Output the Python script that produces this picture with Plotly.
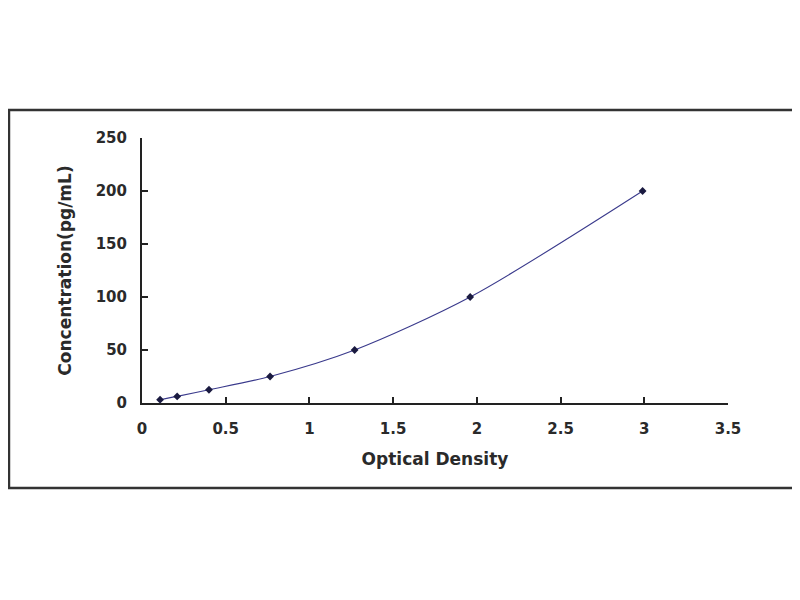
import plotly.graph_objects as go

# Standardkurve: Optische Dichte gegen Konzentration
optical_density = [0.108, 0.21, 0.40, 0.765, 1.27, 1.96, 2.99]
concentration = [3.12, 6.25, 12.5, 25, 50, 100, 200]

x_ticks = [0, 0.5, 1, 1.5, 2, 2.5, 3, 3.5]
x_tick_labels = ["0", "0.5", "1", "1.5", "2", "2.5", "3", "3.5"]
y_ticks = [0, 50, 100, 150, 200, 250]

tick_font = dict(family="DejaVu Sans, Verdana, sans-serif", size=15, color="#2a2a2a", weight="bold")
title_font = dict(family="DejaVu Sans, Verdana, sans-serif", size=17, color="#2a2a2a", weight="bold")

fig = go.Figure()

# Kurve und Messpunkte
fig.add_trace(go.Scatter(
    x=optical_density, y=concentration,
    mode="lines+markers",
    line=dict(color="#3a3a8c", width=1.1, shape="spline", smoothing=0.8),
    marker=dict(color="#1a1a40", size=6, symbol="diamond"),
    showlegend=False,
))

fig.update_xaxes(
    range=[0, 3.5], tickvals=x_ticks, ticktext=x_tick_labels,
    showgrid=False, zeroline=False,
    showline=True, linecolor="#222222", linewidth=2,
    ticks="inside", ticklen=6, tickwidth=1.5, tickcolor="#222222",
    tickfont=tick_font, ticklabelstandoff=11,
    title=dict(text="Optical Density", font=title_font, standoff=16),
)
fig.update_yaxes(
    range=[0, 250], tickvals=y_ticks,
    showgrid=False, zeroline=False,
    showline=True, linecolor="#222222", linewidth=2,
    ticks="inside", ticklen=6, tickwidth=1.5, tickcolor="#222222",
    tickfont=tick_font, ticklabelstandoff=10,
    title=dict(text="Concentration(pg/mL)", font=title_font, standoff=20),
)

# Rahmen um die gesamte Grafik
fig.add_shape(
    type="rect", xref="paper", yref="paper",
    x0=-0.227, x1=1.114, y0=-0.321, y1=1.106,
    line=dict(color="#333333", width=2.5), layer="below",
)

fig.update_layout(
    width=800, height=600,
    margin=dict(l=134, r=80, t=130, b=205),
    paper_bgcolor="white", plot_bgcolor="white",
)

fig.write_html("out.html")
